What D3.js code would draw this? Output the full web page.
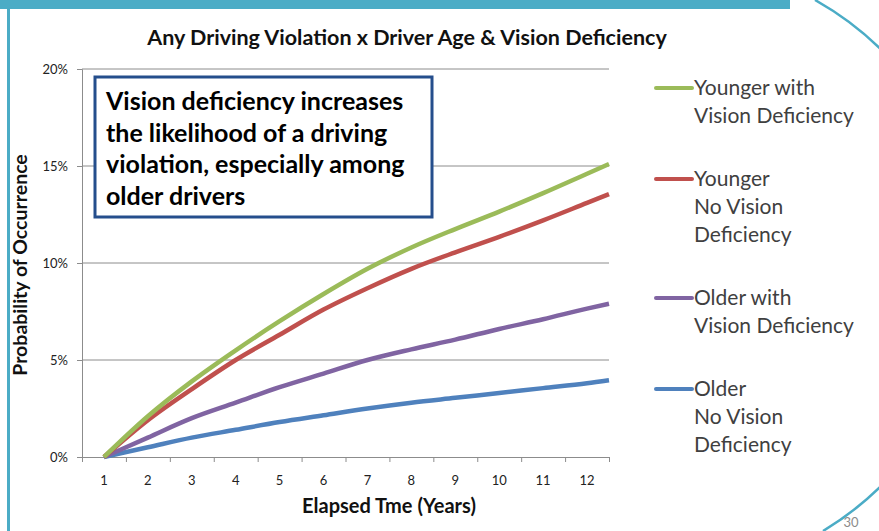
<!DOCTYPE html>
<html>
<head>
<meta charset="utf-8">
<script src="https://cdn.jsdelivr.net/npm/d3@7"></script>
<style>
	html, body { margin: 0; padding: 0; background: #fff; }
	svg { display: block; font-family: Lato, 'Open Sans', sans-serif; }
</style>
</head>
<body>
<svg id="chart" width="879" height="531"></svg>
<script>
// Elapsed time (years). Lines run to the right edge of the last band.
const years = [1, 2, 3, 4, 5, 6, 7, 8, 9, 10, 11, 12, 12.5];
const yearLabels = ['1', '2', '3', '4', '5', '6', '7', '8', '9', '10', '11', '12'];

// Probability of occurrence, in percent.
const youngerVision = [0, 2.1, 3.9, 5.5, 7.0, 8.4, 9.7, 10.8, 11.75, 12.65, 13.6, 14.6, 15.1];
const youngerNoVision = [0, 1.9, 3.5, 5.0, 6.3, 7.6, 8.7, 9.7, 10.55, 11.35, 12.2, 13.1, 13.55];
const olderVision = [0, 1.0, 2.0, 2.8, 3.6, 4.3, 5.0, 5.55, 6.05, 6.6, 7.1, 7.65, 7.9];
const olderNoVision = [0, 0.5, 1.0, 1.4, 1.8, 2.15, 2.5, 2.8, 3.05, 3.3, 3.55, 3.8, 3.96];

const yTicks = [0, 5, 10, 15, 20];

const seriesLabels = [
	['Younger with', 'Vision Deficiency'],
	['Younger', 'No Vision', 'Deficiency'],
	['Older with', 'Vision Deficiency'],
	['Older', 'No Vision', 'Deficiency'],
];
const seriesColors = ['#9bbb59', '#c0504d', '#8064a2', '#4f81bd'];

const noteLines = [
	'Vision deficiency increases',
	'the likelihood of a driving',
	'violation, especially among',
	'older drivers',
];

const series = [youngerVision, youngerNoVision, olderVision, olderNoVision].map((values, i) => ({
	label: seriesLabels[i],
	color: seriesColors[i],
	points: values.map((v, j) => [years[j], v]),
}));

const svg = d3.select('#chart');

// Slide frame.
svg.append('rect').attr('x', 0).attr('y', 0).attr('width', 790).attr('height', 9).attr('fill', '#4bacc6');
svg.append('rect').attr('x', 7).attr('y', 0).attr('width', 3).attr('height', 531).attr('fill', '#4bacc6');
svg.append('path')
	.attr('d', 'M815,0 A307,307 0 0 1 823,531')
	.attr('fill', 'none')
	.attr('stroke', '#4bacc6')
	.attr('stroke-width', 2.5);
svg.append('text')
	.attr('x', 851)
	.attr('y', 527)
	.attr('text-anchor', 'middle')
	.attr('font-size', 13)
	.attr('fill', '#8c8c8c')
	.text('30');

const x = d3.scaleLinear().domain([0.5, 12.5]).range([82, 609]);
const y = d3.scaleLinear().domain([0, 20]).range([457, 69]);

// Gridlines.
svg.append('g')
	.selectAll('line')
	.data(yTicks.filter(d => d > 0))
	.join('line')
	.attr('x1', x(0.5))
	.attr('x2', x(12.5))
	.attr('y1', d => y(d))
	.attr('y2', d => y(d))
	.attr('stroke', '#8c8c8c')
	.attr('stroke-width', 1);

// Y axis.
const yAxis = svg.append('g')
	.attr('transform', `translate(${x(0.5)},0)`)
	.call(d3.axisLeft(y).tickValues(yTicks).tickSize(5).tickPadding(9).tickFormat(d => `${d}%`));
yAxis.select('.domain').attr('stroke', '#8c8c8c');
yAxis.selectAll('.tick line').attr('stroke', '#8c8c8c');
yAxis.selectAll('.tick text').attr('font-size', 13).attr('fill', '#222').style('font-family', 'Lato, sans-serif');

// X axis: tick marks at band edges, labels at band centres.
const xAxis = svg.append('g')
	.attr('transform', `translate(0,${y(0)})`)
	.call(d3.axisBottom(x).tickValues(d3.range(0.5, 13, 1)).tickSize(5).tickSizeOuter(0).tickFormat(''));
xAxis.select('.domain').attr('stroke', '#8c8c8c');
xAxis.selectAll('.tick line').attr('stroke', '#8c8c8c');

svg.append('g')
	.selectAll('text')
	.data(yearLabels)
	.join('text')
	.attr('x', (d, i) => x(i + 1))
	.attr('y', 485)
	.attr('text-anchor', 'middle')
	.attr('font-size', 13)
	.attr('fill', '#222')
	.text(d => d);

// Titles.
svg.append('text')
	.attr('x', 407)
	.attr('y', 45)
	.attr('text-anchor', 'middle')
	.attr('font-size', 21.5)
	.attr('font-weight', 'bold')
	.attr('fill', '#111')
	.text('Any Driving Violation x Driver Age & Vision Deficiency');

svg.append('text')
	.attr('x', 389)
	.attr('y', 513)
	.attr('text-anchor', 'middle')
	.attr('font-size', 20)
	.attr('font-weight', 'bold')
	.attr('fill', '#111')
	.text('Elapsed Tme (Years)');

svg.append('text')
	.attr('transform', 'translate(27,265) rotate(-90)')
	.attr('text-anchor', 'middle')
	.attr('font-size', 19.5)
	.attr('font-weight', 'bold')
	.attr('fill', '#111')
	.text('Probability of Occurrence');

// Series lines.
const line = d3.line().curve(d3.curveMonotoneX).x(d => x(d[0])).y(d => y(d[1]));

svg.append('g')
	.selectAll('path')
	.data(series.slice().reverse())
	.join('path')
	.attr('d', d => line(d.points))
	.attr('fill', 'none')
	.attr('stroke', d => d.color)
	.attr('stroke-width', 4.5)
	.attr('stroke-linejoin', 'round');

// Annotation box.
const note = svg.append('g');
note.append('rect')
	.attr('x', 95)
	.attr('y', 77)
	.attr('width', 337)
	.attr('height', 140)
	.attr('fill', '#fff')
	.attr('stroke', '#254e8c')
	.attr('stroke-width', 3);
note.selectAll('text')
	.data(noteLines)
	.join('text')
	.attr('x', 106)
	.attr('y', (d, i) => 110 + i * 31.5)
	.attr('font-size', 25)
	.attr('font-weight', 'bold')
	.attr('fill', '#000')
	.text(d => d);

// Legend.
const legend = svg.append('g');
let legendY = 88;
series.forEach(s => {
	const entry = legend.append('g').attr('transform', `translate(0,${legendY})`);
	entry.append('line')
		.attr('x1', 656)
		.attr('x2', 692)
		.attr('y1', 0)
		.attr('y2', 0)
		.attr('stroke', s.color)
		.attr('stroke-width', 4)
		.attr('stroke-linecap', 'round');
	entry.selectAll('text')
		.data(s.label)
		.join('text')
		.attr('x', 694)
		.attr('y', (d, i) => 7 + i * 28)
		.attr('font-size', 21)
		.attr('fill', '#404040')
		.text(d => d);
	legendY += s.label.length * 28 + 35;
});
</script>
</body>
</html>
